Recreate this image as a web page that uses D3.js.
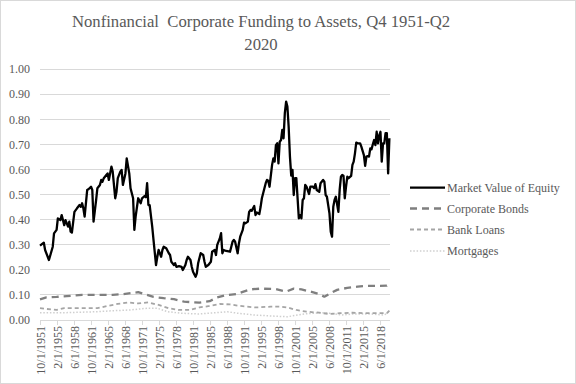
<!DOCTYPE html>
<html><head><meta charset="utf-8">
<script src="https://cdn.jsdelivr.net/npm/d3@7"></script>
<style>body{margin:0;background:#fff}svg{display:block}text{font-family:"Liberation Serif","Times New Roman",serif;fill:#595959}</style>
</head><body>
<script>
const titleLines = ["Nonfinancial  Corporate Funding to Assets, Q4 1951-Q2", "2020"];
const seriesNames = ["Market Value of Equity", "Corporate Bonds", "Bank Loans", "Mortgages"];
const yTicks = [0,0.1,0.2,0.3,0.4,0.5,0.6,0.7,0.8,0.9,1.0];
const xTickLabels = ["10/1/1951","2/1/1955","6/1/1958","10/1/1961","2/1/1965","6/1/1968","10/1/1971","2/1/1975","6/1/1978","10/1/1981","2/1/1985","6/1/1988","10/1/1991","2/1/1995","6/1/1998","10/1/2001","2/1/2005","6/1/2008","10/1/2011","2/1/2015","6/1/2018"];
const dateRange = [1951.75, 2020.25];

// [year (quarter start), value]
const equity = [[1951.75,.296],[1952.5,.308],[1952.75,.279],[1953.5,.239],[1954.25,.292],[1954.5,.345],[1955,.359],[1955.25,.405],[1955.75,.398],[1956,.418],[1956.5,.378],[1956.75,.398],[1957.25,.372],[1957.5,.392],[1957.75,.352],[1958,.348],[1958.5,.431],[1959,.445],[1959.5,.458],[1959.75,.451],[1960,.465],[1960.25,.445],[1960.5,.412],[1961,.518],[1961.25,.521],[1961.75,.531],[1962,.518],[1962.25,.392],[1962.75,.478],[1963,.525],[1963.5,.538],[1963.75,.558],[1964,.551],[1964.25,.565],[1964.75,.578],[1965,.584],[1965.25,.558],[1965.75,.611],[1966,.591],[1966.5,.485],[1966.75,.511],[1967,.565],[1967.5,.591],[1967.75,.598],[1968,.538],[1968.5,.584],[1968.75,.644],[1969.25,.584],[1969.5,.525],[1969.75,.505],[1970,.485],[1970.25,.359],[1970.5,.412],[1971,.485],[1971.5,.465],[1971.75,.485],[1972.25,.494],[1972.5,.489],[1972.75,.545],[1973,.458],[1973.25,.458],[1973.75,.372],[1974,.319],[1974.5,.219],[1974.75,.252],[1975,.279],[1975.5,.252],[1975.75,.279],[1976,.292],[1976.5,.286],[1977,.266],[1977.25,.259],[1977.5,.232],[1978,.219],[1978.25,.226],[1978.5,.212],[1979,.215],[1979.5,.212],[1979.75,.199],[1980.25,.219],[1980.5,.239],[1980.75,.252],[1981.25,.239],[1981.5,.212],[1981.75,.192],[1982.25,.172],[1982.5,.186],[1982.75,.226],[1983.25,.266],[1983.75,.259],[1984,.232],[1984.25,.212],[1984.75,.219],[1985.25,.232],[1985.5,.272],[1986,.279],[1986.25,.259],[1986.5,.299],[1987,.325],[1987.25,.346],[1987.5,.266],[1987.75,.279],[1988.25,.275],[1989,.272],[1989.5,.312],[1989.75,.319],[1990,.312],[1990.5,.266],[1990.75,.305],[1991,.332],[1991.5,.359],[1991.75,.388],[1992,.385],[1992.5,.392],[1992.75,.431],[1993,.438],[1993.25,.435],[1993.75,.454],[1994,.418],[1994.25,.428],[1994.75,.422],[1995,.451],[1995.25,.485],[1995.75,.525],[1996,.545],[1996.25,.558],[1996.5,.555],[1996.75,.531],[1997.25,.618],[1997.5,.644],[1997.75,.631],[1998,.697],[1998.25,.704],[1998.5,.624],[1998.75,.710],[1999,.717],[1999.25,.757],[1999.5,.724],[1999.75,.824],[2000,.870],[2000.25,.850],[2000.5,.770],[2000.75,.651],[2001,.575],[2001.25,.598],[2001.5,.498],[2001.75,.565],[2002,.565],[2002.5,.405],[2002.75,.418],[2003,.405],[2003.25,.478],[2003.5,.485],[2003.75,.538],[2004,.531],[2004.5,.502],[2004.75,.531],[2005.25,.531],[2005.5,.525],[2005.75,.541],[2006,.518],[2006.5,.511],[2006.75,.545],[2007.25,.558],[2007.5,.551],[2007.75,.498],[2008,.491],[2008.5,.425],[2008.75,.352],[2009,.332],[2009.25,.451],[2009.5,.478],[2009.75,.491],[2010.25,.431],[2010.5,.518],[2010.75,.571],[2011,.578],[2011.25,.575],[2011.5,.485],[2011.75,.531],[2012,.571],[2012.25,.565],[2012.75,.574],[2013,.618],[2013.25,.631],[2013.5,.664],[2013.75,.707],[2014,.704],[2014.5,.704],[2014.75,.691],[2015.25,.657],[2015.5,.614],[2015.75,.651],[2016,.653],[2016.25,.651],[2016.5,.684],[2016.75,.680],[2017,.700],[2017.25,.717],[2017.5,.697],[2017.75,.750],[2018,.704],[2018.25,.735],[2018.5,.750],[2018.75,.631],[2019,.704],[2019.25,.704],[2019.5,.744],[2019.75,.744],[2020,.584],[2020.25,.724]];

const bonds = [[1951.75,.082],[1953,.090],[1955,.092],[1957,.095],[1960,.100],[1963,.100],[1966,.100],[1968,.103],[1970,.108],[1971,.111],[1972,.105],[1974,.092],[1976,.087],[1978,.083],[1980,.073],[1983,.069],[1985,.075],[1986.5,.090],[1988.5,.100],[1990.25,.103],[1991.5,.112],[1993,.122],[1995,.125],[1998,.123],[2000,.113],[2001.5,.125],[2003,.122],[2005,.112],[2006.5,.103],[2007.5,.093],[2009,.110],[2010,.120],[2012,.128],[2014,.133],[2016,.136],[2018,.136],[2019.75,.137],[2020.25,.145]];

const bankLoans = [[1951.75,.047],[1953,.044],[1955,.040],[1956.5,.047],[1960,.047],[1963,.047],[1965,.056],[1967,.064],[1969,.070],[1971,.066],[1973,.070],[1975,.060],[1977,.047],[1979,.040],[1981,.040],[1983,.050],[1985,.056],[1987,.064],[1989,.062],[1991,.056],[1994,.050],[1997,.053],[1999,.053],[2000.25,.050],[2002,.040],[2004,.033],[2006.5,.029],[2008.5,.024],[2010.5,.027],[2013,.029],[2016,.027],[2019.75,.027],[2020.25,.037]];

const mortgages = [[1951.75,.029],[1956.5,.029],[1963,.033],[1966,.037],[1969.5,.040],[1972.75,.047],[1974.75,.047],[1976.75,.033],[1979.5,.027],[1982.75,.024],[1986,.029],[1988.5,.033],[1990.5,.027],[1993.75,.020],[1997,.016],[2000.25,.013],[2003.5,.024],[2006.75,.029],[2008.75,.027],[2010.75,.020],[2013.25,.024],[2016.5,.024],[2019.25,.020],[2020.25,.033]];

const W = 576, H = 384;
const toDate = t => { const y = Math.floor(t); return new Date(y, Math.round((t - y) * 12), 1); };
const parse = d3.timeParse("%m/%d/%Y");

const svg = d3.select("body").append("svg").attr("width", W).attr("height", H);
svg.append("rect").attr("x",0.5).attr("y",0.5).attr("width",W-1).attr("height",H-1).attr("fill","#fff").attr("stroke","#d9d9d9");

const x = d3.scaleTime().domain(dateRange.map(toDate)).range([40, 389.4]);
const y = d3.scaleLinear().domain([0, 1]).range([320, 69]);

// title
svg.append("g").selectAll("text").data(titleLines).join("text")
  .attr("x", 261).attr("y", (d,i) => 27 + i*22.5).attr("text-anchor","middle")
  .style("white-space","pre").attr("xml:space","preserve")
  .style("font-size","16.7px").text(d => d);

// gridlines
svg.append("g").selectAll("line").data(yTicks).join("line")
  .attr("x1", 40).attr("x2", 390).attr("y1", d => y(d)).attr("y2", d => y(d))
  .attr("stroke","#d9d9d9").attr("stroke-width",1).attr("shape-rendering","crispEdges");

// y labels
const yAxis = d3.axisLeft(y).tickValues(yTicks).tickFormat(d3.format(".2f")).tickSize(0).tickPadding(10);
const gy = svg.append("g").attr("transform","translate(40,0)").call(yAxis);
gy.select(".domain").remove();
gy.selectAll("text").style("font-size","12px").attr("fill","#595959").style("font-family",'"Liberation Serif",serif');

// x axis
const xTickDates = xTickLabels.map(parse);
const xAxis = d3.axisBottom(x).tickValues(xTickDates).tickFormat((d,i) => xTickLabels[i]).tickSize(5).tickSizeOuter(0);
const gx = svg.append("g").attr("transform","translate(0,320)").call(xAxis);
gx.select(".domain").attr("stroke","#d9d9d9").attr("d","M40,0.5H390");
gx.selectAll(".tick line").attr("stroke","#d9d9d9");
gx.selectAll(".tick text").attr("transform","rotate(-90)").attr("text-anchor","end")
  .attr("x", -6).attr("y", 0).attr("dy","0.35em").style("font-size","12px").attr("fill","#595959").style("font-family",'"Liberation Serif",serif');

const styles = [
  {data: equity, color:"#000000", width:2.3, dash:null},
  {data: bonds, color:"#7f7f7f", width:2.3, dash:"7,5"},
  {data: bankLoans, color:"#a5a5a5", width:1.8, dash:"4,3"},
  {data: mortgages, color:"#cfcfcf", width:1.5, dash:"1.5,1.8"}
];
const line = d3.line().x(d => x(toDate(d[0]))).y(d => y(d[1]));
[...styles].reverse().forEach(s => {
  svg.append("path").datum(s.data).attr("d", line).attr("fill","none")
    .attr("stroke", s.color).attr("stroke-width", s.width).attr("stroke-dasharray", s.dash)
    .attr("stroke-linejoin","round");
});

// legend
const lg = svg.append("g");
const rowsY = [187.7, 208.5, 229.5, 251];
seriesNames.forEach((name, i) => {
  const s = styles[i];
  lg.append("line").attr("x1", 410).attr("x2", 445).attr("y1", rowsY[i]).attr("y2", rowsY[i])
    .attr("stroke", s.color).attr("stroke-width", s.width).attr("stroke-dasharray", s.dash);
  lg.append("text").attr("x", 447).attr("y", rowsY[i]).attr("dy","0.35em").style("font-size","12px").text(name);
});
</script>
</body></html>
